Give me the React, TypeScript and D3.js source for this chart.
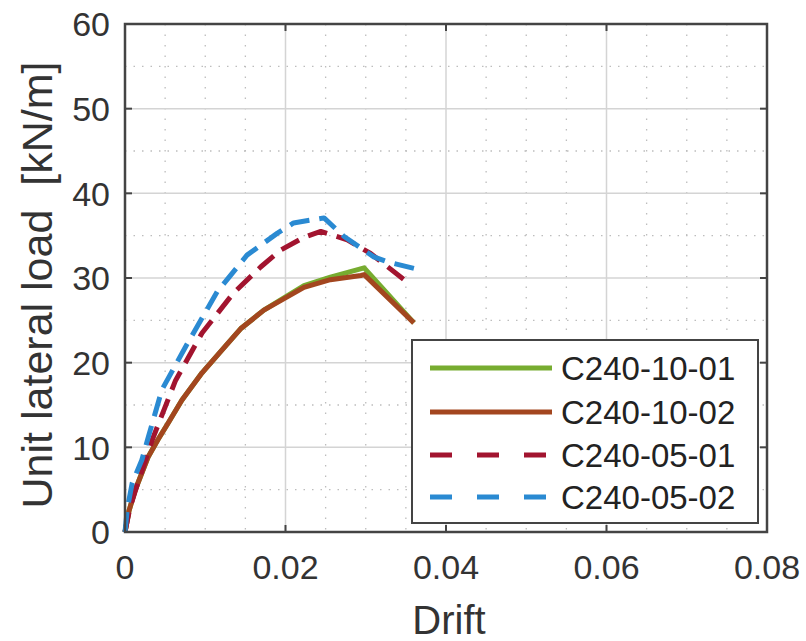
import React from "react";
import * as d3 from "d3";

const W = 806, H = 641;
const M = { left: 125, right: 767, top: 24, bottom: 532 };

const xTicks = [0, 0.02, 0.04, 0.06, 0.08];
const xTickLabels = ["0", "0.02", "0.04", "0.06", "0.08"];
const yTicks = [0, 10, 20, 30, 40, 50, 60];
const xMinor = [0.005, 0.01, 0.015, 0.025, 0.03, 0.035, 0.045, 0.05, 0.055, 0.065, 0.07, 0.075];
const yMinor = [5, 15, 25, 35, 45, 55];

const seriesNames = ["C240-10-01", "C240-10-02", "C240-05-01", "C240-05-02"];
const seriesColors = ["#77AC30", "#A3461F", "#A2142F", "#2A8AD2"];
const seriesDashed = [false, false, true, true];

const s1: [number, number][] = [
  [0, 0], [0.0005, 2.5], [0.00125, 4.9], [0.0029, 8.9], [0.0041, 10.9], [0.0054, 12.9], [0.0071, 15.6],
  [0.0096, 18.8], [0.0121, 21.5], [0.0144, 24.0], [0.0173, 26.2], [0.0223, 29.1], [0.0256, 30.1],
  [0.0298, 31.2], [0.036, 24.7],
];
const s2: [number, number][] = [
  [0, 0], [0.0005, 2.5], [0.00125, 4.9], [0.0029, 8.9], [0.0041, 10.9], [0.0054, 12.9], [0.0071, 15.6],
  [0.0096, 18.8], [0.0121, 21.5], [0.0144, 24.0], [0.0173, 26.2], [0.0223, 28.9], [0.0256, 29.8],
  [0.0294, 30.3], [0.0298, 30.4], [0.036, 24.7],
];
const s3: [number, number][] = [
  [0, 0], [0.0006, 2.8], [0.0016, 5.8], [0.0034, 10.9], [0.0063, 17.9], [0.0096, 23.5], [0.0135, 28.2],
  [0.0169, 31.3], [0.0194, 33.3], [0.0223, 34.8], [0.0244, 35.5], [0.0277, 34.5], [0.0306, 32.9],
  [0.0352, 29.5],
];
const s4: [number, number][] = [
  [0, 0], [0.0003, 2.8], [0.0009, 5.8], [0.0021, 8.5], [0.0029, 11.2], [0.0046, 16.8], [0.0075, 21.8],
  [0.0115, 28.4], [0.0152, 32.7], [0.019, 35.3], [0.021, 36.5], [0.0248, 37.1], [0.0273, 34.9],
  [0.031, 32.5], [0.0327, 31.9], [0.0366, 31.0],
];
const seriesData = [s1, s2, s3, s4];

const FONT = "'Liberation Sans', Arial, sans-serif";

export default function App() {
  const x = d3.scaleLinear().domain([0, 0.08]).range([M.left, M.right]);
  const y = d3.scaleLinear().domain([0, 60]).range([M.bottom, M.top]);
  const line = d3.line<[number, number]>().x(d => x(d[0])).y(d => y(d[1]));
  const axisColor = "#444";
  const tickLen = 7;

  const legX = 412, legY = 340, legW = 346, legH = 183;
  const rowY = [368, 412, 455, 497];

  return (
    <svg width={W} height={H} style={{ position: "absolute", left: 0, top: 0, background: "#fff" }}>
      <rect x={0} y={0} width={W} height={H} fill="#fff" />
      {/* minor grid */}
      {xMinor.map((v, i) => (
        <line key={"xm" + i} x1={x(v)} x2={x(v)} y1={M.top} y2={M.bottom} stroke="#bdbdbd" strokeWidth={1.3} strokeDasharray="1.5 9" />
      ))}
      {yMinor.map((v, i) => (
        <line key={"ym" + i} x1={M.left} x2={M.right} y1={y(v)} y2={y(v)} stroke="#bdbdbd" strokeWidth={1.3} strokeDasharray="1.5 7" />
      ))}
      {/* major grid */}
      {xTicks.map((v, i) => (
        <line key={"xg" + i} x1={x(v)} x2={x(v)} y1={M.top} y2={M.bottom} stroke="#d4d4d4" strokeWidth={1.5} />
      ))}
      {yTicks.map((v, i) => (
        <line key={"yg" + i} x1={M.left} x2={M.right} y1={y(v)} y2={y(v)} stroke="#d4d4d4" strokeWidth={1.5} />
      ))}
      {/* series */}
      {seriesData.map((d, i) => (
        <path key={"s" + i} d={line(d) || ""} fill="none" stroke={seriesColors[i]} strokeWidth={5}
          strokeDasharray={seriesDashed[i] ? "20 10" : undefined} strokeLinejoin="round" />
      ))}
      {/* axes box */}
      <rect x={M.left} y={M.top} width={M.right - M.left} height={M.bottom - M.top} fill="none" stroke={axisColor} strokeWidth={2.5} />
      {xTicks.map((v, i) => (
        <g key={"xt" + i}>
          <line x1={x(v)} x2={x(v)} y1={M.bottom} y2={M.bottom - tickLen} stroke={axisColor} strokeWidth={2} />
          <line x1={x(v)} x2={x(v)} y1={M.top} y2={M.top + tickLen} stroke={axisColor} strokeWidth={2} />
          <text x={x(v)} y={579} textAnchor="middle" fontFamily={FONT} fontSize={34} fill="#333">{xTickLabels[i]}</text>
        </g>
      ))}
      {yTicks.map((v, i) => (
        <g key={"yt" + i}>
          <line x1={M.left} x2={M.left + tickLen} y1={y(v)} y2={y(v)} stroke={axisColor} strokeWidth={2} />
          <line x1={M.right} x2={M.right - tickLen} y1={y(v)} y2={y(v)} stroke={axisColor} strokeWidth={2} />
          <text x={110} y={y(v)} dy="0.36em" textAnchor="end" fontFamily={FONT} fontSize={34} fill="#333">{String(v)}</text>
        </g>
      ))}
      {/* axis labels */}
      <text x={449} y={634} textAnchor="middle" fontFamily={FONT} fontSize={40} fill="#333">Drift</text>
      <text transform={`translate(52,${285}) rotate(-90)`} textAnchor="middle" fontFamily={FONT} fontSize={43}
        fill="#333" style={{ whiteSpace: "pre" }}>{"Unit lateral load  [kN/m]"}</text>
      {/* legend */}
      <rect x={legX} y={legY} width={legW} height={legH} fill="#fff" stroke={axisColor} strokeWidth={2} />
      {seriesNames.map((n, i) => (
        <g key={"l" + i}>
          <line x1={430} x2={552} y1={rowY[i]} y2={rowY[i]} stroke={seriesColors[i]} strokeWidth={5}
            strokeDasharray={seriesDashed[i] ? "22 25" : undefined} />
          <text x={561} y={rowY[i]} dy="0.36em" fontFamily={FONT} fontSize={33} fill="#222">{n}</text>
        </g>
      ))}
    </svg>
  );
}
